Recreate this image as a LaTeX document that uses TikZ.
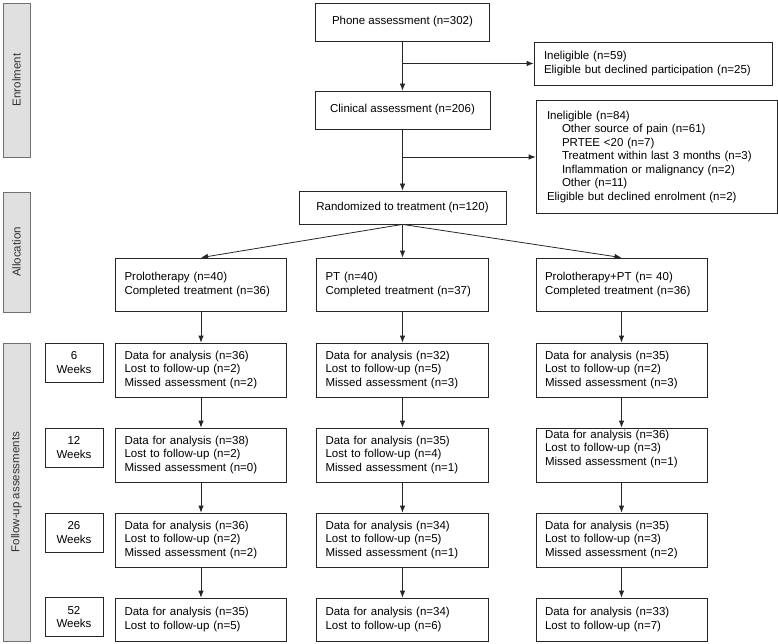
\documentclass[tikz,border=0pt]{standalone}
\usepackage{fontspec}
\setmainfont{Liberation Sans}
\usetikzlibrary{arrows.meta}
\definecolor{barfill}{HTML}{E0E0E0}
\definecolor{bardraw}{HTML}{707070}
\definecolor{bartext}{HTML}{333333}
\tikzset{
  base/.style={draw=black!85, line width=0.8pt, font=\fontsize{11.5}{13.5}\selectfont, inner ysep=0pt},
  cbox/.style={base, align=center, inner xsep=2pt},
  lbox/.style n args={2}{base, minimum width=#1pt, minimum height=#2pt, inner xsep=9pt, text width=#1pt-18pt, align=left},
  wbox/.style={base, minimum width=58pt, minimum height=39pt, align=center, inner xsep=2pt},
  sidebar/.style n args={2}{draw=bardraw, fill=barfill, line width=0.8pt, minimum width=#1pt, minimum height=#2pt, inner sep=0pt},
  sidelabel/.style={rotate=90, text=bartext, font=\fontsize{11.5}{13.5}\selectfont},
  arr/.style={draw=black!85, line width=0.8pt, -{Latex[length=7pt,width=5.5pt]}}
}
\begin{document}
\begin{tikzpicture}[x=1pt,y=-1pt]
\useasboundingbox (0,0) rectangle (778,644);

% side bars
\node[sidebar={27}{154}] (sb1) at (16.5,80) {};
\node[sidelabel] (sl1) at (sb1.center) {Enrolment};
\node[sidebar={27}{120}] (sb2) at (16.5,252) {};
\node[sidelabel] (sl2) at (sb2.center) {Allocation};
\node[sidebar={27}{298}] (sb3) at (16.5,492) {};
\node[sidelabel] (sl3) at (sb3.center) {Follow-up assessments};

% enrolment
\node[cbox, minimum width=174pt, minimum height=38pt] (phone) at (402.5,22) {Phone assessment (n=302)};
\node[cbox, minimum width=175pt, minimum height=38pt] (clin) at (402.5,110) {Clinical assessment (n=206)};
\node[cbox, minimum width=207pt, minimum height=33pt] (rand) at (402.5,207.5) {Randomized to treatment (n=120)};
\node[lbox={238}{43}, inner xsep=10pt, text width=218pt] (inel1) at (653,63.5) {Ineligible (n=59)\\Eligible but declined participation (n=25)};
\node[lbox={241}{113}, inner xsep=11pt, text width=219pt] (inel2) at (656.5,157) {Ineligible (n=84)\\
\hspace*{15pt}Other source of pain (n=61)\\
\hspace*{15pt}PRTEE {<}20 (n=7)\\
\hspace*{15pt}Treatment within last 3 months (n=3)\\
\hspace*{15pt}Inflammation or malignancy (n=2)\\
\hspace*{15pt}Other (n=11)\\
Eligible but declined enrolment (n=2)};

\draw[arr] (phone) -- (clin);
\draw[arr] (clin) -- (rand);
\draw[arr] (phone.south |- inel1.west) -- (inel1.west);
\draw[arr] (clin.south |- inel2.west) -- (inel2.west);

% allocation
\node[lbox={171}{53}] (a1) at (201,284.5) {Prolotherapy (n=40)\\Completed treatment (n=36)};
\node[lbox={172}{53}] (a2) at (402.5,284.5) {PT (n=40)\\Completed treatment (n=37)};
\node[lbox={171}{53}] (a3) at (621.5,284.5) {Prolotherapy+PT (n= 40)\\Completed treatment (n=36)};
\draw[arr] (rand.south) -- (a1.north);
\draw[arr] (rand.south) -- (a2.north);
\draw[arr] (rand.south) -- (a3.north);

% week labels
\node[wbox] (w1) at (74,362.5) {6\\Weeks};
\node[wbox] (w2) at (74,447.5) {12\\Weeks};
\node[wbox] (w3) at (74,532.5) {26\\Weeks};
\node[wbox] (w4) at (74,617) {52\\Weeks};

% follow-up column 1
\node[lbox={171}{54}] (c1r1) at (201,370) {Data for analysis (n=36)\\Lost to follow-up (n=2)\\Missed assessment (n=2)};
\node[lbox={171}{54}] (c1r2) at (201,455) {Data for analysis (n=38)\\Lost to follow-up (n=2)\\Missed assessment (n=0)};
\node[lbox={171}{54}] (c1r3) at (201,540) {Data for analysis (n=36)\\Lost to follow-up (n=2)\\Missed assessment (n=2)};
\node[lbox={171}{43}] (c1r4) at (201,619.5) {Data for analysis (n=35)\\Lost to follow-up (n=5)};

% follow-up column 2
\node[lbox={172}{54}] (c2r1) at (402.5,370) {Data for analysis (n=32)\\Lost to follow-up (n=5)\\Missed assessment (n=3)};
\node[lbox={172}{54}] (c2r2) at (402.5,455) {Data for analysis (n=35)\\Lost to follow-up (n=4)\\Missed assessment (n=1)};
\node[lbox={172}{54}] (c2r3) at (402.5,540) {Data for analysis (n=34)\\Lost to follow-up (n=5)\\Missed assessment (n=1)};
\node[lbox={172}{43}] (c2r4) at (402.5,619.5) {Data for analysis (n=34)\\Lost to follow-up (n=6)};

% follow-up column 3
\node[lbox={171}{54}] (c3r1) at (621.5,370) {Data for analysis (n=35)\\Lost to follow-up (n=2)\\Missed assessment (n=3)};
\node[lbox={171}{54}] (c3r2) at (621.5,455) {};
\node[base, draw=none, inner xsep=0pt, text width=153pt, align=left] (c3r2t) at ([yshift=6pt]c3r2.center) {Data for analysis (n=36)\\Lost to follow-up (n=3)\\Missed assessment (n=1)};
\node[lbox={171}{54}] (c3r3) at (621.5,540) {Data for analysis (n=35)\\Lost to follow-up (n=3)\\Missed assessment (n=2)};
\node[lbox={171}{43}] (c3r4) at (621.5,619.5) {Data for analysis (n=33)\\Lost to follow-up (n=7)};

% vertical arrows
\draw[arr] (a1) -- (c1r1);
\draw[arr] (c1r1) -- (c1r2);
\draw[arr] (c1r2) -- (c1r3);
\draw[arr] (c1r3) -- (c1r4);
\draw[arr] (a2) -- (c2r1);
\draw[arr] (c2r1) -- (c2r2);
\draw[arr] (c2r2) -- (c2r3);
\draw[arr] (c2r3) -- (c2r4);
\draw[arr] (a3) -- (c3r1);
\draw[arr] (c3r1) -- (c3r2);
\draw[arr] (c3r2) -- (c3r3);
\draw[arr] (c3r3) -- (c3r4);
\end{tikzpicture}
\end{document}
